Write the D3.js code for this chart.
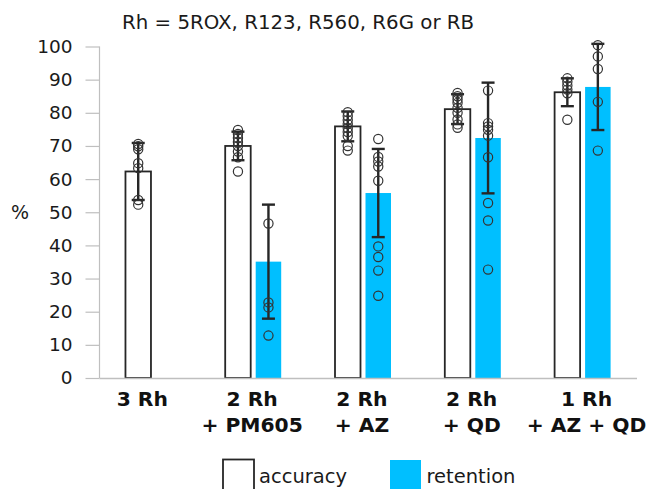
<!DOCTYPE html>
<html>
<head>
<meta charset="utf-8">
<script src="https://cdn.jsdelivr.net/npm/d3@7"></script>
<style>
  html, body { margin: 0; padding: 0; background: #fff; }
  svg { display: block; font-family: "DejaVu Sans", Verdana, sans-serif; }
</style>
</head>
<body>
<svg id="chart" width="651" height="489"></svg>
<script>
// ---- data ----
const categories = ["3 Rh", "2 Rh|+ PM605", "2 Rh|+ AZ", "2 Rh|+ QD", "1 Rh|+ AZ + QD"];
const seriesNames = ["accuracy", "retention"];
const accuracyMean = [62.3, 70.0, 75.9, 81.1, 86.2];
const accuracySD   = [8.6, 4.3, 4.5, 4.5, 4.2];
const retentionMean = [null, 35.1, 55.8, 72.4, 87.8];
const retentionSD   = [null, 17.2, 13.3, 16.7, 13.0];
const accuracyPoints = [
  [70.6, 69.9, 69.0, 64.8, 63.3, 53.7, 52.3],
  [74.8, 73.6, 72.4, 71.2, 70.0, 68.3, 66.6, 62.3],
  [80.2, 79.0, 77.8, 76.6, 75.4, 74.2, 73.0, 70.0, 68.6],
  [86.0, 85.0, 84.0, 83.0, 81.5, 80.0, 78.0, 76.5, 75.5],
  [90.4, 89.4, 88.2, 87.0, 85.9, 77.9]
];
const retentionPoints = [
  [],
  [46.6, 22.8, 21.3, 12.8],
  [72.1, 66.7, 65.3, 63.8, 59.5, 39.7, 36.5, 32.4, 24.8],
  [86.7, 76.9, 75.9, 74.9, 73.1, 66.6, 52.8, 47.5, 32.7],
  [100.4, 97.0, 93.2, 83.3, 68.6]
];
const yTicks = [0, 10, 20, 30, 40, 50, 60, 70, 80, 90, 100];
const titleText = "Rh = 5ROX, R123, R560, R6G or RB";
const yAxisLabel = "%";

// ---- layout ----
const svg = d3.select("#chart");
const axisLeft = 99.5, axisRight = 637, yBottom = 378, yTop = 46.5;
const ink = "#262626", gridGray = "#bfbfbf", blue = "#00BFFF";

const y = d3.scaleLinear().domain([0, 100]).range([yBottom, yTop]);
const x0 = d3.scaleBand().domain(categories).range([88.4, 637.4]).padding(0);
const x1 = d3.scaleBand().domain(seriesNames).range([27, 83]).paddingInner(0.164).paddingOuter(0);

const series = {
  accuracy: { mean: accuracyMean, sd: accuracySD, pts: accuracyPoints },
  retention: { mean: retentionMean, sd: retentionSD, pts: retentionPoints }
};

const records = [];
categories.forEach((c, i) => {
  const single = retentionMean[i] == null;
  seriesNames.forEach(s => {
    const m = series[s].mean[i];
    if (m == null) return;
    const bw = x1.bandwidth();
    const xl = single ? x0(c) + x0.bandwidth() / 2 - bw / 2 - x1.step() / 6 : x0(c) + x1(s);
    records.push({ cat: c, s, mean: m, sd: series[s].sd[i], pts: series[s].pts[i], xl, bw });
  });
});

// y axis
const yAxis = d3.axisLeft(y).tickValues(yTicks).tickSize(14).tickPadding(13);
const gy = svg.append("g").attr("transform", `translate(${axisLeft},0)`).call(yAxis);
gy.select(".domain").attr("stroke", gridGray).attr("stroke-width", 1.2).attr("d", `M0,${yTop}V${yBottom}`);
gy.selectAll(".tick line").attr("stroke", gridGray).attr("stroke-width", 1.2);
gy.selectAll(".tick text").attr("fill", "#1a1a1a").attr("font-size", 18.5)
  .attr("font-family", "DejaVu Sans, Verdana, sans-serif");

// bars
svg.append("g").selectAll("rect").data(records).join("rect")
  .attr("x", d => d.xl).attr("width", d => d.bw)
  .attr("y", d => y(d.mean)).attr("height", d => y(0) - y(d.mean))
  .attr("fill", d => d.s === "accuracy" ? "#fff" : blue)
  .attr("stroke", d => d.s === "accuracy" ? ink : "none")
  .attr("stroke-width", 1.8);

// x axis line
svg.append("line").attr("x1", axisLeft).attr("x2", axisRight)
  .attr("y1", yBottom + 0.5).attr("y2", yBottom + 0.5)
  .attr("stroke", gridGray).attr("stroke-width", 1.5);

// error bars
const eb = svg.append("g").attr("stroke", ink).attr("stroke-width", 2.4);
records.forEach(d => {
  const cx = d.xl + d.bw / 2;
  const hi = y(d.mean + d.sd), lo = y(d.mean - d.sd);
  eb.append("line").attr("x1", cx).attr("x2", cx).attr("y1", hi).attr("y2", lo);
  eb.append("line").attr("x1", cx - 6.5).attr("x2", cx + 6.5).attr("y1", hi).attr("y2", hi);
  eb.append("line").attr("x1", cx - 6.5).attr("x2", cx + 6.5).attr("y1", lo).attr("y2", lo);
});

// points
const pg = svg.append("g");
records.forEach(d => {
  const cx = d.xl + d.bw / 2;
  pg.selectAll(null).data(d.pts).join("circle")
    .attr("cx", cx).attr("cy", v => y(v)).attr("r", 4.6)
    .attr("fill", "none").attr("stroke", "#333").attr("stroke-width", 1.2);
});

// category labels
const cl = svg.append("g").attr("font-weight", "bold").attr("font-size", 20.3)
  .attr("fill", "#111").attr("text-anchor", "middle");
categories.forEach((c, i) => {
  const lines = c.split("|");
  const cx = x0(c) + x0.bandwidth() / 2 + (i === categories.length - 1 ? 4 : -1);
  const t = cl.append("text").attr("x", cx).attr("y", 406);
  lines.forEach((ln, k) => {
    t.append("tspan").attr("x", cx).attr("dy", k === 0 ? 0 : 25.5).text(ln);
  });
});

// y label
svg.append("text").attr("x", 20).attr("y", y(50) + 7).attr("text-anchor", "middle")
  .attr("font-size", 19).attr("fill", "#1a1a1a").text(yAxisLabel);

// title
svg.append("text").attr("x", 122).attr("y", 29).attr("font-size", 19.8)
  .attr("fill", "#1a1a1a").text(titleText);

// legend
const lg = svg.append("g").attr("font-size", 19.5).attr("fill", "#1a1a1a");
lg.append("rect").attr("x", 223).attr("y", 459.5).attr("width", 31).attr("height", 34)
  .attr("fill", "#fff").attr("stroke", ink).attr("stroke-width", 1.8);
lg.append("text").attr("x", 259).attr("y", 483).text(seriesNames[0]);
lg.append("rect").attr("x", 390).attr("y", 460).attr("width", 31).attr("height", 30)
  .attr("fill", blue);
lg.append("text").attr("x", 426.5).attr("y", 483).text(seriesNames[1]);
</script>
</body>
</html>
